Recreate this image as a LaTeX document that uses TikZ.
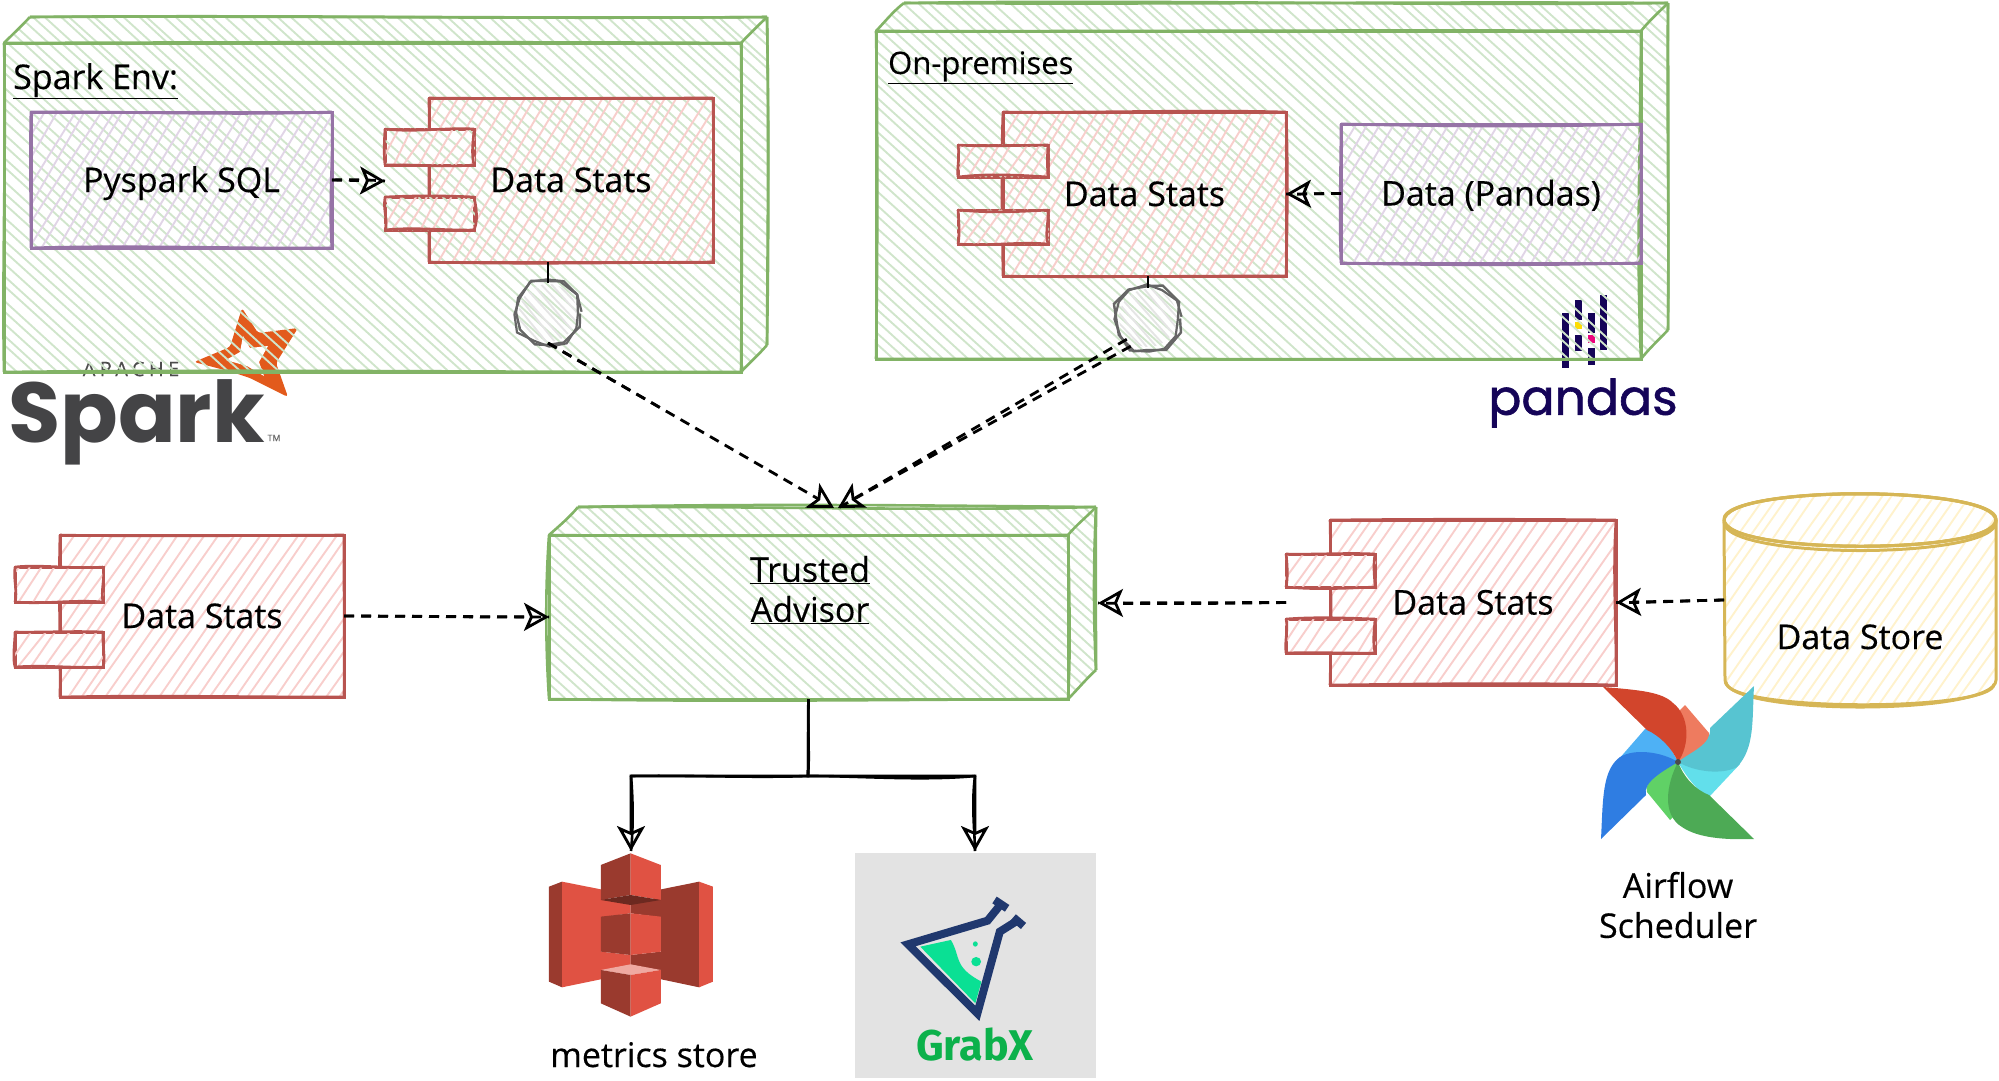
\documentclass[tikz,border=0pt]{standalone}
\usepackage{fontspec}
\setmainfont[FakeBold=0.35]{Open Sans}
\newfontfamily\logofont{Poppins}
\newfontfamily\pandafont[FakeBold=1.2]{Poppins}
\newfontfamily\grabfont{Fira Sans}
\usetikzlibrary{arrows.meta,calc,decorations.pathmorphing}
\definecolor{grnline}{HTML}{82B366}
\definecolor{grnhatch}{HTML}{D0E5CB}
\definecolor{redline}{HTML}{B85450}
\definecolor{redhatch}{HTML}{F8CECC}
\definecolor{purline}{HTML}{9673A6}
\definecolor{purhatch}{HTML}{E1D5E7}
\definecolor{yelline}{HTML}{D6B656}
\definecolor{yelhatch}{HTML}{FFF2CC}
\definecolor{navy}{HTML}{150458}
\definecolor{flask}{HTML}{20386E}
\definecolor{sthree}{HTML}{E05243}
\definecolor{sdark}{HTML}{9A3A2E}
\definecolor{sparkstar}{HTML}{E25A1C}
\definecolor{sparkgrey}{HTML}{444446}
\tikzset{
  greenbox/.style={draw=grnline,line width=3pt,inner sep=0pt,outer sep=0pt},
  redbox/.style={draw=redline,line width=3pt,inner sep=0pt,outer sep=0pt},
  purplebox/.style={draw=purline,line width=3pt,inner sep=0pt,outer sep=0pt},
  portbox/.style={draw=redline,line width=3pt,fill=white,inner sep=0pt,outer sep=0pt},
  greenpen/.style={draw=grnline,line width=2.6pt},
  redpen/.style={draw=redline,line width=2.6pt},
  purplepen/.style={draw=purline,line width=2.8pt},
  yellowpen/.style={draw=yelline,line width=3pt},
  inkpen/.style={draw=black,line width=2.6pt},
  dashpen/.style={draw=black,line width=2.8pt,dash pattern=on 10pt off 7pt},
  ifacebox/.style={circle,draw=black!60,line width=2.4pt,minimum size=60pt,inner sep=0pt,outer sep=0pt,decorate,decoration={random steps,segment length=18pt,amplitude=2.5pt}},
  ifacepen/.style={draw=black!60,line width=2.2pt,decorate,decoration={random steps,segment length=16pt,amplitude=2.5pt}},
  tipend/.style={-{Stealth[open,length=25pt,width=28pt,inset=6pt,line width=2.8pt]}},
  dasharrow/.style={dashpen,tipend},
  inkarrow/.style={inkpen,tipend},
  stem/.style={draw=black,line width=2.6pt},
  hatchline/.style={line width=1.9pt},
  label/.style={font=\fontsize{34}{40}\selectfont,inner sep=0pt,align=center,text=black},
  boxlabel/.style={label,text height=24pt,text depth=0pt},
}
\pgfmathsetseed{4242}
\newcommand\hatchlines[7]{%
  \pgfmathsetmacro\hh{#4-(#2)}%
  \pgfmathsetmacro\sh{(#6)*\hh}%
  \pgfmathsetmacro\xs{min(#1,#1-\sh)}%
  \pgfmathsetmacro\xe{max(#3,#3-\sh)}%
  \pgfmathsetmacro\xn{\xs+#7}%
  \foreach \k in {\xs,\xn,...,\xe}{%
    \pgfmathsetmacro\jit{rnd*6}%
    \pgfmathsetmacro\jat{rnd*5}%
    \draw[#5,hatchline] (\k+\jit,#2) -- (\k+\jat+\sh,#4);
  }}
\newcommand\hatchbox[7]{\begin{scope}\clip (#1-1,#2-1) rectangle (#3+1,#4+1);\hatchlines{#1}{#2}{#3}{#4}{#5}{#6}{#7}\end{scope}}
\newcommand\boxnode[7]{%
  \pgfmathsetmacro\cx{(#3+#5)/2}\pgfmathsetmacro\cy{(#4+#6)/2}%
  \pgfmathsetmacro\ww{#5-#3}\pgfmathsetmacro\hh{#6-#4}%
  \node[#1,minimum width=\ww pt,minimum height=\hh pt] (#2) at (\cx,\cy) {#7};}
\newcommand\skedge[4]{%
  \pgfmathsetmacro\ra{rand*#4}\pgfmathsetmacro\rb{rand*#4}%
  \pgfmathsetmacro\rc{rand*#4}\pgfmathsetmacro\rd{rand*#4}%
  \draw[#1] (#2) .. controls ($(#2)!.33!(#3)+(\ra,\rb)$) and ($(#2)!.68!(#3)+(\rc,\rd)$) .. (#3);}
\newcommand\skbox[3]{%
  \skedge{#1}{#2.north west}{#2.north east}{#3}\skedge{#1}{#2.north east}{#2.south east}{#3}%
  \skedge{#1}{#2.south east}{#2.south west}{#3}\skedge{#1}{#2.south west}{#2.north west}{#3}}
\newcommand\cubeclip[8]{(#1,#2)--(#5,#6)--(#7,#6)--(#7,#8)--(#3,#4)--(#1,#4)--cycle}
\newcommand\cubelines[9]{%
  \skedge{#1}{#2,#3}{#6,#7}{1.5}\skedge{#1}{#6,#7}{#8,#7}{4}\skedge{#1}{#6,#7}{#8,#7}{6}%
  \skedge{#1}{#4,#3}{#8,#7}{1.5}\skedge{#1}{#8,#7}{#8,#9}{2}\skedge{#1}{#8,#7}{#8,#9}{3}%
  \skedge{#1}{#8,#9}{#4,#5}{1.5}}
\begin{document}
\begin{tikzpicture}[x=1pt,y=-1pt]
\useasboundingbox (0,0) rectangle (1999,1080);

% ---------- logos beneath the hatching ----------
\fill[sparkstar,rounded corners=3pt] (242,308)--(258,333)--(298,328)--(276,363)--(288,397)--(250,378)--(232,372)--(194,362)--(230,347)--cycle;
\fill[white] (243,336)--(250,348)--(268,346)--(259,362)--(264,376)--(247,366)--(226,360)--(240,352)--cycle;
\node[font=\logofont\bfseries\fontsize{85}{85}\selectfont,text=sparkgrey,inner sep=0pt,anchor=base west] (sparkword) at (8,442) {Spark};
\node[font=\fontsize{20}{20}\selectfont,text=black!70,inner sep=0pt] (apache) at (131,369) {\addfontfeature{LetterSpace=22}APACHE};
\node[font=\fontsize{9}{9}\selectfont,text=black!60,inner sep=0pt] (trade) at (274,438) {TM};

\fill[navy] (1562,313) rectangle (1569,368);
\fill[navy] (1575,300) rectangle (1582,320);
\fill[yellow!80!orange] (1575,322) rectangle (1582,329);
\fill[navy] (1575,335) rectangle (1582,351);
\fill[navy] (1588,313) rectangle (1595,333);
\fill[magenta!85!red] (1588,335) rectangle (1595,343);
\fill[navy] (1588,348) rectangle (1595,365);
\fill[navy] (1600,295) rectangle (1607,350);
\node[font=\pandafont\fontsize{49}{49}\selectfont,text=navy,inner sep=0pt] (pandasword) at (1583,403) {pandas};

% ---------- container hatching ----------
\begin{scope}\clip \cubeclip{4}{43}{741}{372}{30}{17}{767}{345};\hatchlines{4}{17}{767}{372}{grnhatch}{1.1}{13}\end{scope}
\begin{scope}\clip \cubeclip{876}{31}{1641}{359}{904}{3}{1668}{330};\hatchlines{876}{3}{1668}{359}{grnhatch}{1.1}{13}\end{scope}
\begin{scope}\clip \cubeclip{549}{535}{1068}{699}{578}{507}{1096}{670};\hatchlines{549}{507}{1096}{699}{grnhatch}{1.1}{13}\end{scope}

% ---------- Spark Env ----------
\boxnode{greenbox}{sparkbox}{4}{43}{741}{372}{}
\cubelines{greenpen}{4}{43}{741}{372}{30}{17}{767}{345}
\skbox{greenpen}{sparkbox}{3}
\node[label,anchor=base west] (sparklabel) at (13,89) {\underline{Spark Env:}};

\hatchbox{31}{112}{332}{248}{purhatch}{-0.6}{13}
\boxnode{purplebox,boxlabel}{pysql}{31}{112}{332}{248}{Pyspark SQL}
\skbox{purplepen}{pysql}{4}

\hatchbox{429}{98}{713}{262}{redhatch}{-0.6}{13}
\boxnode{redbox,boxlabel}{dsa}{429}{98}{713}{262}{Data Stats}
\skbox{redpen}{dsa}{2.5}
\boxnode{portbox}{dsaup}{385}{129}{474}{165}{}
\hatchbox{385}{129}{474}{165}{grnhatch}{1.1}{13}
\hatchbox{385}{129}{474}{165}{redhatch}{-0.6}{13}
\skbox{redpen}{dsaup}{4}
\boxnode{portbox}{dsalo}{385}{197}{474}{230}{}
\hatchbox{385}{197}{474}{230}{grnhatch}{1.1}{13}
\hatchbox{385}{197}{474}{230}{redhatch}{-0.6}{13}
\skbox{redpen}{dsalo}{4}

\begin{scope}\clip (548,313) circle[radius=29];\hatchlines{519}{284}{577}{342}{black!10}{0.9}{9}\end{scope}
\node[ifacebox] (ifa) at (548,313) {};
\draw[ifacepen] (548,313) circle[radius=30];

% ---------- On-premises ----------
\boxnode{greenbox}{prembox}{876}{31}{1641}{359}{}
\cubelines{greenpen}{876}{31}{1641}{359}{904}{3}{1668}{330}
\skbox{greenpen}{prembox}{5}
\node[label,font=\fontsize{31}{38}\selectfont,anchor=base west] (premlabel) at (888,74) {\underline{On-premises}};

\hatchbox{1003}{112}{1286}{276}{redhatch}{-0.6}{13}
\boxnode{redbox,boxlabel}{dsb}{1003}{112}{1286}{276}{Data Stats}
\skbox{redpen}{dsb}{2.5}
\boxnode{portbox}{dsbup}{958}{145}{1048}{177}{}
\hatchbox{958}{145}{1048}{177}{grnhatch}{1.1}{13}
\hatchbox{958}{145}{1048}{177}{redhatch}{-0.6}{13}
\skbox{redpen}{dsbup}{4}
\boxnode{portbox}{dsblo}{958}{210}{1048}{244}{}
\hatchbox{958}{210}{1048}{244}{grnhatch}{1.1}{13}
\hatchbox{958}{210}{1048}{244}{redhatch}{-0.6}{13}
\skbox{redpen}{dsblo}{4}

\hatchbox{1341}{124}{1641}{263}{purhatch}{-0.6}{13}
\boxnode{purplebox,boxlabel}{pdata}{1341}{124}{1641}{263}{Data (Pandas)}
\skbox{purplepen}{pdata}{4}

\begin{scope}\clip (1148,318) circle[radius=29];\hatchlines{1119}{289}{1177}{347}{black!10}{0.9}{9}\end{scope}
\node[ifacebox] (ifb) at (1148,318) {};
\draw[ifacepen] (1148,318) circle[radius=30];

% ---------- left Data Stats ----------
\hatchbox{60}{535}{344}{697}{redhatch}{-0.7}{13}
\boxnode{redbox,boxlabel}{dsc}{60}{535}{344}{697}{Data Stats}
\skbox{redpen}{dsc}{2}
\boxnode{portbox}{dscup}{15}{567}{103}{602}{}
\hatchbox{15}{567}{103}{602}{redhatch}{-0.7}{13}
\skbox{redpen}{dscup}{3}
\boxnode{portbox}{dsclo}{15}{632}{103}{667}{}
\hatchbox{15}{632}{103}{667}{redhatch}{-0.7}{13}
\skbox{redpen}{dsclo}{3}

% ---------- Trusted Advisor ----------
\boxnode{greenbox}{trusted}{549}{535}{1068}{699}{}
\cubelines{greenpen}{549}{535}{1068}{699}{578}{507}{1096}{670}
\skbox{greenpen}{trusted}{5}
\node[label] (trustlabel) at (810,590) {\underline{Trusted}\\\underline{Advisor}};

% ---------- right Data Stats ----------
\hatchbox{1330}{520}{1616}{685}{redhatch}{-0.7}{13}
\boxnode{redbox,boxlabel}{dsd}{1330}{520}{1616}{685}{Data Stats}
\skbox{redpen}{dsd}{4}
\boxnode{portbox}{dsdup}{1286}{554}{1375}{587}{}
\hatchbox{1286}{554}{1375}{587}{redhatch}{-0.7}{13}
\skbox{redpen}{dsdup}{3}
\boxnode{portbox}{dsdlo}{1286}{619}{1375}{653}{}
\hatchbox{1286}{619}{1375}{653}{redhatch}{-0.7}{13}
\skbox{redpen}{dsdlo}{3}

% ---------- Data Store ----------
\begin{scope}
\clip (1724,520) .. controls (1724,485) and (1996,485) .. (1996,520) -- (1996,680) .. controls (1996,716) and (1724,716) .. (1724,680) -- cycle;
\hatchlines{1724}{493}{1996}{707}{yelhatch}{-0.7}{13}
\end{scope}
\node[minimum width=272pt,minimum height=214pt,inner sep=0pt,outer sep=0pt] (store) at (1860,600) {};
\foreach \p/\q in {0/0,1/2,-1/-1}{
  \draw[yellowpen] (1724,520+\p) .. controls (1724,485-\q) and (1996,485+\q) .. (1996,520-\p) .. controls (1996,555+\q) and (1724,555-\q) .. (1724,520+\p);
}
\draw[yellowpen] (1996,522) .. controls (1996,560) and (1724,560) .. (1724,522);
\draw[yellowpen] (1724,520) -- (1725,680) .. controls (1724,716) and (1996,716) .. (1996,680) -- (1996,520);
\draw[yellowpen] (1726,682) .. controls (1726,712) and (1994,712) .. (1994,684);
\node[boxlabel] (storelabel) at (1860,637) {Data Store};

% ---------- Airflow pinwheel ----------
\fill[fill={rgb,255:red,238;green,123;blue,95}] (1685,705) -- (1709,733) .. controls (1713,745) and (1700,752) .. (1678,762) -- (1670,720) -- cycle;
\fill[fill={rgb,255:red,98;green,223;blue,235}] (1740,764) -- (1709,797) .. controls (1700,793) and (1688,780) .. (1678,762) -- (1720,750) -- cycle;
\fill[fill={rgb,255:red,96;green,209;blue,102}] (1670,820) -- (1647,792) .. controls (1643,782) and (1660,770) .. (1678,762) -- (1690,800) -- cycle;
\fill[fill={rgb,255:red,78;green,177;blue,245}] (1618,760) -- (1645,729) .. controls (1655,728) and (1670,745) .. (1678,762) -- (1640,775) -- cycle;
\fill[fill={rgb,255:red,210;green,69;blue,44}] (1603,687) .. controls (1640,690) and (1662,692) .. (1673,703) .. controls (1690,716) and (1690,745) .. (1678,762) .. controls (1672,748) and (1660,736) .. (1647,730) -- cycle;
\fill[fill={rgb,255:red,87;green,196;blue,209}] (1754,686) .. controls (1752,720) and (1755,748) .. (1737,767) .. controls (1722,775) and (1695,772) .. (1678,762) .. controls (1690,752) and (1712,745) .. (1710,728) -- cycle;
\fill[fill={rgb,255:red,77;green,170;blue,85}] (1754,839) .. controls (1725,840) and (1698,838) .. (1682,827) .. controls (1662,815) and (1666,785) .. (1678,762) .. controls (1684,778) and (1696,790) .. (1709,795) -- cycle;
\fill[fill={rgb,255:red,47;green,125;blue,226}] (1601,839) .. controls (1603,800) and (1602,770) .. (1620,757) .. controls (1635,748) and (1662,752) .. (1678,762) .. controls (1665,770) and (1642,782) .. (1646,795) -- cycle;
\fill[black!70] (1678,762) ellipse[x radius=3,y radius=3];
\node[label] (airflowlabel) at (1678,905) {Airflow\\Scheduler};

% ---------- S3 logo ----------
\begin{scope}[shift={(500,680)},x=0.408pt,y=-0.3333pt]
\fill[sdark] (120,620)--(152,605)--(152,922)--(120,905)--cycle;
\fill[sthree] (152,605)--(247,628)--(247,898)--(152,922)--cycle;
\fill[sdark] (395,628)--(488,605)--(488,922)--(395,898)--cycle;
\fill[sthree] (488,605)--(522,620)--(522,905)--(488,922)--cycle;
\fill[sthree] (247,655)--(320,672)--(320,700)--(247,712)--cycle;
\fill[sdark] (320,672)--(394,655)--(394,712)--(320,700)--cycle;
\fill[sthree] (247,815)--(320,825)--(320,855)--(247,872)--cycle;
\fill[sdark] (320,825)--(394,815)--(394,872)--(320,855)--cycle;
\fill[sdark] (247,555)--(320,520)--(320,645)--(247,660)--cycle;
\fill[sthree] (320,520)--(394,555)--(394,660)--(320,645)--cycle;
\fill[sdark!70!black] (247,660)--(320,645)--(394,660)--(320,675)--cycle;
\fill[sdark] (247,710)--(320,700)--(320,825)--(247,815)--cycle;
\fill[sthree] (320,700)--(394,710)--(394,815)--(320,825)--cycle;
\fill[sthree!50!white] (247,870)--(320,853)--(394,870)--(320,885)--cycle;
\fill[sdark] (247,870)--(320,885)--(320,1010)--(247,970)--cycle;
\fill[sthree] (320,885)--(394,870)--(394,970)--(320,1010)--cycle;
\end{scope}
\node[boxlabel] (metricslabel) at (654,1055) {metrics store};

% ---------- GrabX ----------
\boxnode{fill={rgb,255:red,227;green,227;blue,227},inner sep=0pt,outer sep=0pt}{grabx}{855}{853}{1096}{1078}{}
\begin{scope}[shift={(500,680)},x=0.408pt,y=-0.3333pt]
\fill[fill={rgb,255:red,10;green,224;blue,148}] (1030,800)--(1105,780) .. controls (1130,830) and (1110,860) .. (1180,905) -- (1165,970) -- cycle;
\fill[fill={rgb,255:red,10;green,224;blue,148}] (1165,792) ellipse[x radius=6,y radius=8];
\fill[fill={rgb,255:red,10;green,224;blue,148}] (1167,845) ellipse[x radius=12,y radius=14];
\draw[flask,line width=8pt,miter limit=10] (1228,672)--(1195,722)--(1000,793)--(1170,1000)--(1225,755)--(1268,722);
\draw[flask,line width=8pt] (1212,660)--(1243,685);
\draw[flask,line width=8pt] (1258,712)--(1283,738);
\end{scope}
\node[font=\grabfont\bfseries\fontsize{43}{43}\selectfont,text={rgb,255:red,12;green,177;blue,75},inner sep=0pt] (grabword) at (975,1045) {GrabX};

% ---------- connector ends ----------
\coordinate (tipa) at (834,508);
\coordinate (tipb) at (838,508);
\coordinate (tipr) at (1098,603);
\coordinate (branch) at (808,776);
\coordinate (sthreetop) at (631,851);
\coordinate (grabtop) at (975,851);
\coordinate (grableft) at (975,776);
\coordinate (sthreeleft) at (631,776);
\coordinate (pytip) at (385,181);
\coordinate (ifbtwin) at ($(ifb.225)+(4,7)$);

% ---------- connectors ----------
\draw[stem] (dsa.south -| ifa.north) -- (ifa.north);
\draw[stem] (dsb.south -| ifb.north) -- (ifb.north);
\draw[dasharrow] (pysql.east) -- (pytip);
\skedge{dashpen}{pysql.east}{pytip}{1.5}
\draw[dasharrow] (pdata.west) -- (dsb.east);
\skedge{dashpen}{pdata.west}{dsb.east}{1.5}
\draw[dasharrow] (ifa.south) -- (tipa);
\skedge{dashpen}{ifa.south}{$(ifa.south)!.4!(tipa)$}{1}
\draw[dasharrow] (ifb.225) -- (tipb);
\skedge{dashpen}{ifbtwin}{tipb}{1.5}
\draw[dasharrow] (dsc.east) -- (trusted.west);
\skedge{dashpen}{dsc.east}{trusted.west}{1.5}
\draw[dasharrow] (dsdup.south west |- dsd.east) -- (tipr);
\skedge{dashpen}{dsdup.south west |- dsd.east}{tipr}{2}
\draw[dasharrow] (store.west) -- (dsd.east);
\skedge{dashpen}{store.west}{dsd.east}{1}
\draw[inkarrow] (trusted.south) -- (branch) -| (sthreetop);
\draw[inkarrow] (trusted.south) -- (branch) -| (grabtop);
\skedge{inkpen}{trusted.south}{branch}{4}
\skedge{inkpen}{branch}{sthreeleft}{3}
\skedge{inkpen}{branch}{grableft}{7}
\skedge{inkpen}{sthreeleft}{sthreetop}{2.5}
\skedge{inkpen}{grableft}{grabtop}{4}
\end{tikzpicture}
\end{document}
